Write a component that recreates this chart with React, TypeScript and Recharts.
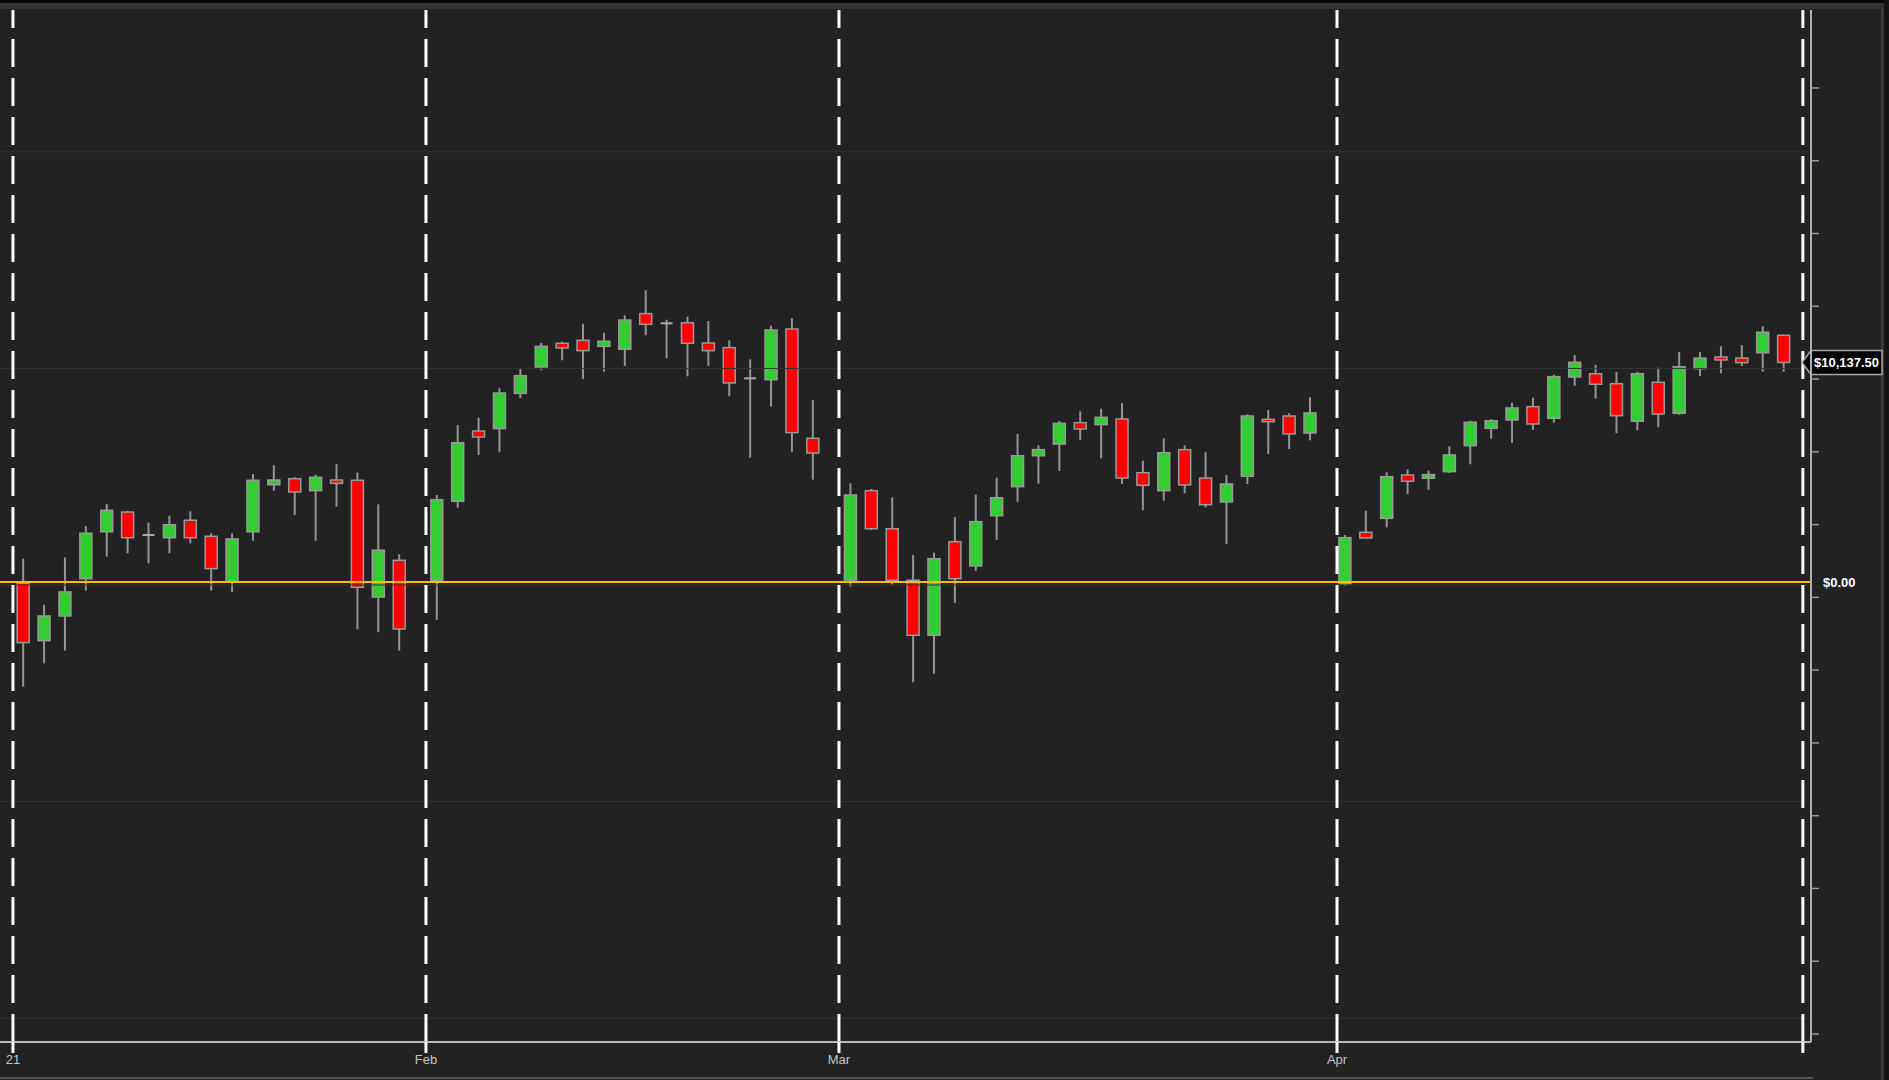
import React from 'react';
import { ComposedChart, Bar, XAxis, YAxis, ReferenceLine } from 'recharts';

// month boundaries, in slot units; each new month starts a little further right
const monthLabels = ['21', 'Feb', 'Mar', 'Apr', ''];
const monthSizes = [19, 19, 23, 22];
const monthOffsets = [0, 0.8, 1.6, 2.27];
const monthStarts = [-0.51, 19.26, 39.03, 62.87, 85.17];

// daily P&L candles in dollars, Jan -> Apr
const opens = [
  -60, -2710, -1570, 150, 2320, 3230, 2170, 2045, 2850, 2110, 15, 2320, 4490, 4770, 4215, 4710, 4695, -695, 1000,
  80, 3725, 6970, 7080, 8710, 9925, 11020, 11160, 10880, 10745, 12390, 11945, 11970, 11035, 10820, 9405, 9340, 11680, 6635,
  90, 4215, 2460, 80, -2460, 1860, 740, 3060, 4400, 5830, 6370, 7355, 7265, 7525, 5045, 4215, 6110, 4800, 3695, 4880, 7510, 7665, 6880,
  -80, 2295, 2940, 4940, 4790, 5095, 6295, 7095, 7480, 8095, 7560, 9465, 9615, 9155, 7420, 9220, 7790, 9850, 10390, 10340, 10585, 11390,
];
const highs = [
  1075, -1050, 1140, 2585, 3600, 3280, 2740, 3060, 3265, 2250, 2250, 4985, 5390, 4835, 4955, 5450, 5045, 3585, 1280,
  4015, 7250, 7585, 8945, 9880, 11035, 11095, 11925, 11510, 12315, 13470, 12110, 12250, 12050, 11160, 10280, 11835, 12175, 8405,
  4555, 4295, 3910, 1245, 1355, 3000, 4030, 4815, 6835, 6310, 7435, 7880, 8000, 8265, 5600, 6635, 6310, 5990, 4940, 7745, 7940, 7790, 8530,
  2170, 3290, 5065, 5205, 5140, 6265, 7445, 7525, 8280, 8510, 9570, 10480, 10020, 9695, 9695, 9895, 10620, 10620, 10880, 10940, 11805, 11420,
];
const lows = [
  -4835, -3755, -3170, -400, 1170, 1325, 865, 1325, 1785, -400, -475, 1905, 4215, 3095, 1905, 3475, -2185, -2320, -3170,
  -1755, 3430, 5865, 5990, 8480, 9775, 10235, 9375, 9710, 9975, 11390, 10330, 9495, 9975, 8575, 5740, 8095, 6000, 4725,
  -215, 2400, -125, -4630, -4235, -970, 510, 1940, 3695, 4540, 5125, 6555, 5710, 4525, 3310, 3755, 4095, 3450, 1755, 4525, 5910, 6140, 6540,
  -170, 2010, 2525, 4050, 4250, 5035, 5435, 6615, 6420, 7020, 7355, 9050, 8465, 6880, 7005, 7140, 7725, 9510, 9635, 9975, 9710, 9710,
];
const closes = [
  -2800, -1570, -460, 2250, 3310, 2045, 2170, 2645, 2045, 615, 1985, 4695, 4710, 4155, 4835, 4555, -245, 1465, -2170,
  3800, 6430, 6695, 8725, 9525, 10880, 10805, 10680, 11115, 12095, 11900, 11945, 11020, 10680, 9190, 9405, 11635, 6895, 5955,
  4015, 2460, 80, -2460, 1075, 150, 2785, 3890, 5830, 6110, 7325, 7065, 7605, 4800, 4465, 5970, 4480, 3570, 4525, 7665, 7400, 6835, 7805,
  2045, 2030, 4860, 4650, 4955, 5865, 7375, 7445, 8035, 7295, 9480, 10145, 9130, 7680, 9615, 7755, 9940, 10340, 10250, 10125, 11530, 10137.5,
];

const gridValues = [19860, 9860, -140, -10140, -20140];
const axisTicks = [-20870, -17510, -14150, -10790, -7430, -4070, -710, 2650, 6010, 9370, 12730, 16090, 19450, 22810];

const candles: any[] = [];
let count = 0;
monthSizes.forEach((size, m) => {
  for (let k = 0; k < size; k++) {
    const i = count + k;
    candles.push({
      slot: i + monthOffsets[m],
      open: opens[i],
      high: highs[i],
      low: lows[i],
      close: closes[i],
      range: [lows[i], highs[i]],
    });
  }
  count += size;
});
const lastClose = closes[closes.length - 1];

function Candle(props: any) {
  const { x, y, width, height, payload } = props;
  if (x == null || y == null || !payload) return null;
  const top = Math.min(y, y + height);
  const bottom = Math.max(y, y + height);
  const { open, high, low, close } = payload;
  const ratio = high > low ? (bottom - top) / (high - low) : 0;
  const toY = (v: number) => top + (high - v) * ratio;
  const cx = x + width / 2;
  const bodyTop = toY(Math.max(open, close));
  const bodyBottom = toY(Math.min(open, close));
  return (
    <g>
      <line x1={cx} x2={cx} y1={top} y2={bottom} stroke="#949494" strokeWidth={2} />
      {open === close ? (
        <line x1={x} x2={x + width} y1={bodyTop} y2={bodyTop} stroke="#a8a8a8" strokeWidth={2} />
      ) : (
        <rect
          x={x}
          y={bodyTop}
          width={width}
          height={Math.max(bodyBottom - bodyTop, 2)}
          fill={close > open ? '#33cc33' : '#ff0000'}
          stroke="#9a9a9a"
          strokeWidth={1.5}
        />
      )}
    </g>
  );
}

function LastBadge(props: any) {
  const vb = props.viewBox || {};
  const right = vb.x + vb.width;
  const cy = vb.y;
  const tip = right - 9;
  const pts = `${tip},${cy} ${tip + 9},${cy - 12} ${right + 71},${cy - 12} ${right + 71},${cy + 12} ${tip + 9},${cy + 12}`;
  return (
    <g>
      <polygon points={pts} fill="#000" stroke="#a8a8a8" strokeWidth={1.5} />
      <text
        x={right + 3}
        y={cy + 1}
        fill="#fff"
        fontSize={13}
        fontWeight={700}
        fontFamily="'Liberation Sans', Arial, sans-serif"
        dominantBaseline="middle"
      >
        {'$' + lastClose.toLocaleString('en-US', { minimumFractionDigits: 2 })}
      </text>
    </g>
  );
}

const NoTick = () => <g />;

export default function App() {
  return (
    <div style={{ position: 'absolute', left: 0, top: 0, width: 1889, height: 1080, background: '#222222', overflow: 'hidden' }}>
      {/* window chrome round the chart */}
      <div style={{ position: 'absolute', left: 0, top: 0, width: 1889, height: 3, background: '#080808' }} />
      <div style={{ position: 'absolute', left: 0, top: 3, width: 1889, height: 6, background: '#333333' }} />
      <div style={{ position: 'absolute', left: 1881, top: 9, width: 3, height: 1071, background: '#3a3a3a' }} />
      <div style={{ position: 'absolute', left: 1884, top: 0, width: 5, height: 1080, background: '#141414' }} />
      <div style={{ position: 'absolute', left: 0, top: 1077, width: 1813, height: 2, background: '#555555' }} />
      <div style={{ position: 'absolute', left: 0, top: 0 }}>
        <ComposedChart width={1889} height={1080} data={candles} margin={{ top: 10, right: 8, bottom: 8, left: 0 }}>
          <XAxis
            dataKey="slot"
            type="number"
            domain={[-1.13, 85.56]}
            allowDataOverflow
            ticks={monthStarts}
            interval={0}
            tickFormatter={(v: number) => monthLabels[monthStarts.indexOf(v)] ?? ''}
            height={30}
            tickSize={11}
            tick={{ fill: '#c4c4c4', fontSize: 13, fontFamily: "'Liberation Sans Narrow', 'Liberation Sans', Arial, sans-serif" }}
            tickLine={{ stroke: '#ffffff', strokeWidth: 3 }}
            axisLine={{ stroke: '#b8b8b8', strokeWidth: 2 }}
          />
          <YAxis
            orientation="right"
            type="number"
            width={70}
            domain={[-21240, 26410]}
            allowDataOverflow
            ticks={axisTicks}
            interval={0}
            tick={NoTick}
            tickSize={8}
            tickLine={{ stroke: '#9a9a9a', strokeWidth: 1.5 }}
            axisLine={{ stroke: '#b0b0b0', strokeWidth: 2 }}
          />
          {gridValues.map((v) => (
            <ReferenceLine key={'g' + v} y={v} stroke="#343434" strokeWidth={1} />
          ))}
          {monthStarts.map((v) => (
            <ReferenceLine key={'m' + v} x={v} stroke="#ffffff" strokeWidth={3} strokeDasharray="28 11" />
          ))}
          <Bar dataKey="range" barSize={12} shape={<Candle />} isAnimationActive={false} />
          <ReferenceLine
            y={0}
            stroke="#ffbf00"
            strokeWidth={2}
            label={{ value: '$0.00', position: 'right', offset: 12, fill: '#ffffff', fontSize: 13, fontWeight: 700, fontFamily: "'Liberation Sans', Arial, sans-serif" }}
          />
          <ReferenceLine y={lastClose} stroke="none" label={LastBadge} />
        </ComposedChart>
      </div>
    </div>
  );
}
